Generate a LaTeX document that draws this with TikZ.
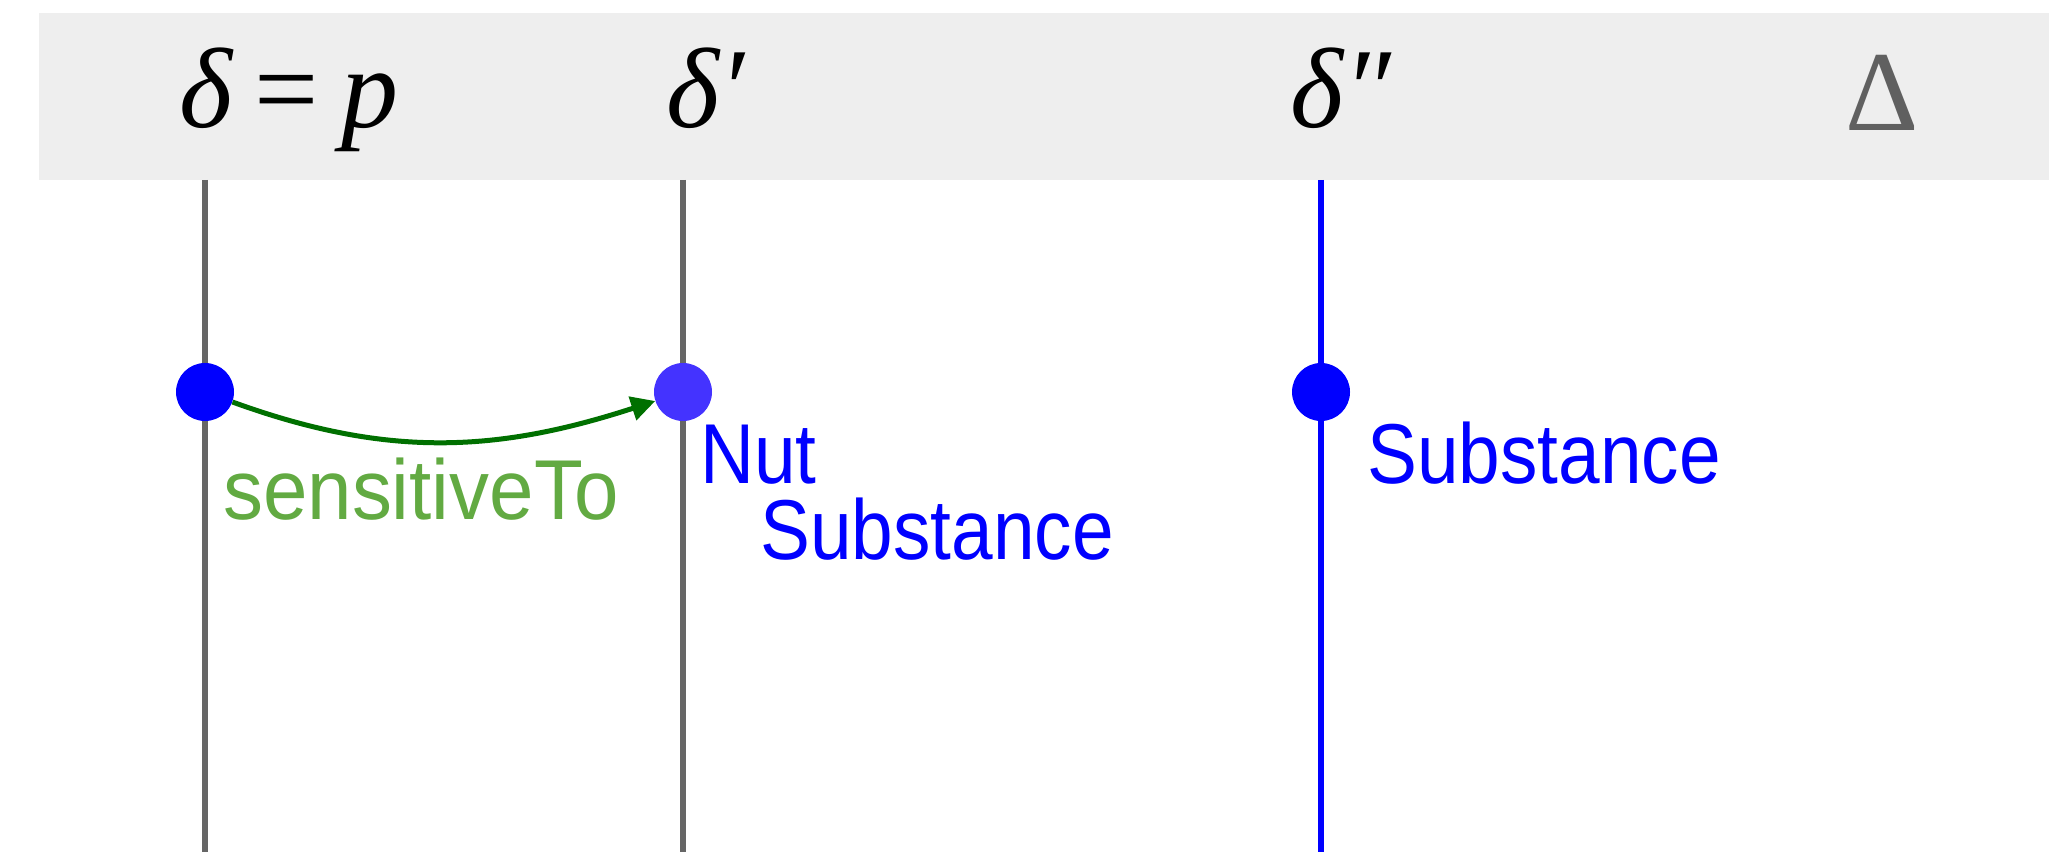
\documentclass[tikz,border=0pt]{standalone}
\usepackage{fontspec}
\setmainfont{Liberation Serif}
\newfontfamily\labfont[FakeStretch=0.88]{Liberation Sans}
\newfontfamily\labfontw[FakeStretch=0.94]{Liberation Sans}
\usetikzlibrary{arrows.meta}
\definecolor{bandgrey}{HTML}{EEEEEE}
\definecolor{linegrey}{HTML}{666666}
\definecolor{hdrgrey}{HTML}{606060}
\definecolor{dotblue}{HTML}{0000FF}
\definecolor{dotlight}{HTML}{4433FF}
\definecolor{labgreen}{HTML}{62AA42}
\definecolor{arrgreen}{HTML}{007000}
\begin{document}
\begin{tikzpicture}[x=1pt,y=1pt,
  lifeline/.style={line width=5.5pt, draw=linegrey},
  dotnode/.style={circle, fill=dotblue, minimum size=58pt, inner sep=0pt},
  lab/.style={font=\labfont\fontsize{85}{85}\selectfont, inner sep=0pt, anchor=base west},
  hdr/.style={font=\fontsize{114}{114}\selectfont, inner sep=0pt, anchor=base}]
\useasboundingbox (0,0) rectangle (2049,852);
\fill[bandgrey] (39,672) rectangle (2049,839);
% header labels
\node[hdr] (h1) at (289,724) {\itshape δ\upshape\hspace{0.2em}=\hspace{0.2em}\itshape p};
\node[hdr] (h2) at (705,724) {\itshape δ′};
\node[hdr] (h3) at (1341,724) {\itshape δ″};
\node[hdr, text=hdrgrey] (h4) at (1882,721) {Δ};
% lifelines
\coordinate (t1) at (205,672); \coordinate (b1) at (205,0);
\coordinate (t2) at (683,672); \coordinate (b2) at (683,0);
\coordinate (t3) at (1321,672); \coordinate (b3) at (1321,0);
\draw[lifeline] (t1) -- (b1);
\draw[lifeline] (t2) -- (b2);
\draw[lifeline, draw=dotblue] (t3) -- (b3);
% dots
\node[dotnode] (d1) at (205,460) {};
\node[dotnode, fill=dotlight] (d2) at (683,460) {};
\node[dotnode] (d3) at (1321,460) {};
% arrow
\draw[arrgreen, line width=5pt, -{Triangle[length=24pt,width=24pt]}] (d1) to[out=-20,in=198] (d2);
% labels
\node[lab, text=labgreen, font=\labfontw\fontsize{85}{85}\selectfont] (l1) at (223,332) {sensitiveTo};
\node[lab, text=dotblue] (l2) at (700,368) {Nut};
\node[lab, text=dotblue] (l3) at (760,293) {Substance};
\node[lab, text=dotblue] (l4) at (1367,368) {Substance};
\end{tikzpicture}
\end{document}
